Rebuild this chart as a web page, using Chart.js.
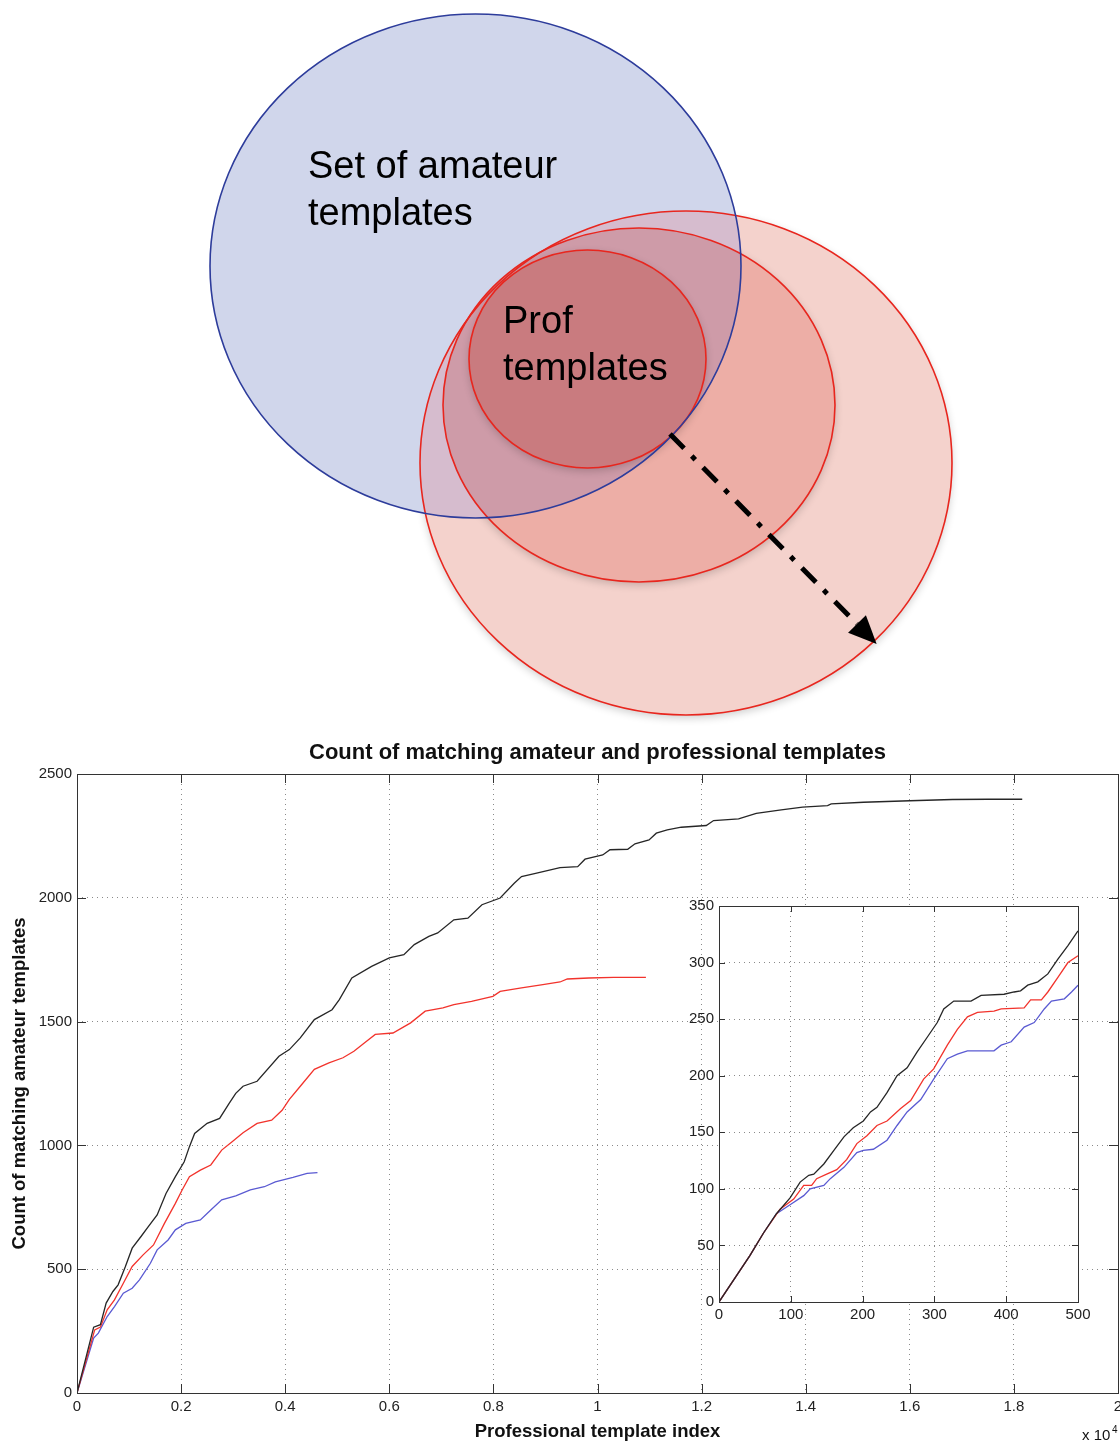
<!DOCTYPE html>
<html lang="en">
<head>
<meta charset="utf-8"/>
<title>Count of matching amateur and professional templates</title>
<script src="https://cdn.jsdelivr.net/npm/chart.js"></script>
<style>
  body { margin: 0; background: #fff; }
  .wrap { position: relative; width: 1120px; height: 1443px; }
  canvas { position: absolute; }
  #vennChart { left: 0; top: 0; }
  #mainChart { left: 0; top: 730px; }
  #insetChart { left: 680px; top: 895px; }
</style>
</head>
<body>
<div class="wrap">
<canvas id="vennChart" width="1120" height="730"></canvas>
<canvas id="mainChart" width="1120" height="713"></canvas>
<canvas id="insetChart" width="440" height="440"></canvas>
</div>
<script>
// ---- venn diagram (diagram units = page pixels) ----
// 0 = amateur set, 1 = outer prof ring, 2 = middle ring, 3 = prof templates
const vennCx = [475.5, 686, 639, 587.5];
const vennCy = [266, 463, 405, 359];
const vennRx = [265.5, 266, 196, 118.5];
const vennRy = [252, 252, 177, 109];
const vennLabels = [['Set of amateur', 'templates'], ['Prof', 'templates']];
const arrowX = [670, 857];
const arrowY = [434, 624];

// ---- main chart: professional template index vs matching count ----
const mainTitle = 'Count of matching amateur and professional templates';
const mainXTitle = 'Professional template index';
const mainYTitle = 'Count of matching amateur templates';
const mainXTicks = ['0', '0.2', '0.4', '0.6', '0.8', '1', '1.2', '1.4', '1.6', '1.8', '2'];
const mainYTicks = ['0', '500', '1000', '1500', '2000', '2500'];

const blackX = [0, 320, 450, 560, 690, 790, 930, 1060, 1230, 1370, 1540, 1710, 1890, 2060, 2160, 2260, 2500, 2740, 2920, 3050, 3190, 3460, 3880, 4080, 4290, 4560, 4900, 5040, 5280, 5660, 6000, 6280, 6480, 6760, 6930, 7240, 7510, 7780, 8130, 8400, 8540, 8810, 9280, 9620, 9760, 10100, 10240, 10580, 10720, 10990, 11130, 11340, 11610, 12090, 12230, 12710, 13050, 13530, 13940, 14420, 14490, 15110, 16000, 16820, 17510, 18160];
const blackY = [0, 266, 276, 363, 410, 437, 511, 585, 632, 672, 719, 806, 874, 934, 995, 1048, 1089, 1109, 1169, 1210, 1239, 1259, 1360, 1387, 1434, 1508, 1548, 1589, 1676, 1723, 1757, 1770, 1811, 1844, 1858, 1911, 1918, 1972, 1999, 2059, 2086, 2099, 2122, 2126, 2156, 2173, 2194, 2196, 2218, 2234, 2261, 2274, 2285, 2292, 2312, 2319, 2341, 2355, 2366, 2372, 2379, 2386, 2392, 2397, 2398, 2398];

const redX = [0, 340, 450, 580, 720, 890, 1060, 1270, 1470, 1680, 1890, 2020, 2160, 2370, 2570, 2780, 2980, 3190, 3460, 3740, 3940, 4080, 4290, 4560, 4840, 5110, 5320, 5520, 5730, 6070, 6410, 6690, 7030, 7240, 7580, 7990, 8130, 8540, 8950, 9280, 9420, 9830, 10310, 10930];
const redY = [0, 255, 266, 336, 376, 443, 511, 558, 598, 685, 766, 820, 874, 900, 921, 981, 1015, 1051, 1089, 1102, 1142, 1186, 1239, 1307, 1333, 1354, 1380, 1414, 1448, 1454, 1495, 1542, 1555, 1569, 1582, 1602, 1622, 1636, 1649, 1660, 1672, 1676, 1679, 1679];

const blueX = [0, 320, 410, 580, 720, 890, 1060, 1200, 1410, 1540, 1750, 1890, 2090, 2370, 2570, 2780, 3050, 3330, 3600, 3810, 4150, 4420, 4620];
const blueY = [0, 222, 242, 309, 349, 403, 423, 457, 524, 578, 618, 659, 685, 699, 739, 780, 796, 820, 833, 853, 871, 887, 890];

// ---- inset: first 500 templates ----
const insetXTicks = ['0', '100', '200', '300', '400', '500'];
const insetYTicks = ['0', '50', '100', '150', '200', '250', '300', '350'];

const inBlackX = [0, 43, 62, 80, 99, 113, 125, 132, 146, 160, 174, 187, 201, 211, 220, 234, 248, 262, 276, 290, 304, 313, 327, 351, 365, 397, 411, 420, 430, 444, 458, 472, 486, 500];
const inBlackY = [0, 41, 61, 78, 92, 106, 112, 113, 122, 134, 146, 154, 160, 168, 172, 185, 200, 207, 221, 234, 247, 259, 266, 266, 271, 272, 274, 275, 280, 283, 290, 303, 315, 328];

const inRedX = [0, 43, 62, 85, 104, 118, 129, 136, 150, 164, 178, 192, 206, 220, 234, 253, 267, 285, 299, 318, 332, 346, 360, 383, 393, 425, 434, 449, 458, 472, 486, 500];
const inRedY = [0, 41, 61, 82, 91, 103, 103, 109, 113, 117, 126, 140, 147, 156, 160, 171, 178, 197, 206, 227, 241, 252, 256, 257, 259, 260, 267, 267, 274, 287, 300, 306];

const inBlueX = [0, 43, 62, 80, 99, 118, 127, 146, 155, 174, 192, 201, 215, 234, 248, 262, 281, 299, 318, 332, 346, 383, 393, 407, 425, 439, 453, 463, 481, 491, 500];
const inBlueY = [0, 41, 61, 78, 86, 94, 100, 103, 109, 119, 132, 134, 135, 143, 156, 168, 179, 197, 215, 219, 222, 222, 227, 230, 243, 247, 259, 266, 268, 274, 280];

const FONT = "'Liberation Sans', Arial, Helvetica, sans-serif";
const lineColors = ['#262626', '#f2332c', '#5a5ad2'];

function series(xs, ys, color) {
  return {
    data: xs.map((x, i) => ({ x: x, y: ys[i] })),
    xAxisID: 'x',
    yAxisID: 'y',
    showLine: true,
    borderColor: color,
    borderWidth: 1.3,
    pointRadius: 0,
    tension: 0
  };
}

// draws the venn ellipses from the data arrays through the scales
const vennPlugin = {
  id: 'vennShapes',
  beforeDatasetsDraw(chart) {
    const ctx = chart.ctx, xs = chart.scales.x, ys = chart.scales.y;
    const fills = ['#d0d6eb', '#f4d2cc', '#edaea6', '#c97b7f'];
    const overBlue = [null, '#d6bcce', '#ce9ba8', '#c97b7f'];
    function path(i) {
      const cx = xs.getPixelForValue(vennCx[i]);
      const cy = ys.getPixelForValue(vennCy[i]);
      const rx = Math.abs(xs.getPixelForValue(vennCx[i] + vennRx[i]) - cx);
      const ry = Math.abs(ys.getPixelForValue(vennCy[i] + vennRy[i]) - cy);
      ctx.beginPath();
      ctx.ellipse(cx, cy, rx, ry, 0, 0, Math.PI * 2);
    }
    ctx.save();
    ctx.shadowColor = 'rgba(0,0,0,0.2)';
    ctx.shadowBlur = 8;
    ctx.shadowOffsetY = 3;
    path(1); ctx.fillStyle = fills[1]; ctx.fill();
    path(2); ctx.fillStyle = fills[2]; ctx.fill();
    ctx.shadowColor = 'transparent';
    path(0); ctx.fillStyle = fills[0]; ctx.fill();
    // overlap of the red rings with the amateur set
    ctx.save();
    path(0); ctx.clip();
    path(1); ctx.fillStyle = overBlue[1]; ctx.fill();
    path(2); ctx.fillStyle = overBlue[2]; ctx.fill();
    ctx.restore();
    ctx.shadowColor = 'rgba(0,0,0,0.2)';
    path(3); ctx.fillStyle = fills[3]; ctx.fill();
    ctx.shadowColor = 'transparent';
    ctx.lineWidth = 1.6;
    ctx.strokeStyle = '#e8261e';
    [1, 2, 3].forEach(i => { path(i); ctx.stroke(); });
    ctx.strokeStyle = '#2d3c9b';
    path(0); ctx.stroke();
    ctx.restore();
  },
  afterDatasetsDraw(chart) {
    const ctx = chart.ctx, xs = chart.scales.x, ys = chart.scales.y;
    // arrow head at the end of the dash-dot line
    const pts = chart.getDatasetMeta(0).data;
    const a = pts[0], b = pts[pts.length - 1];
    const ang = Math.atan2(b.y - a.y, b.x - a.x);
    const len = 28, half = 12.5;
    ctx.save();
    ctx.fillStyle = '#000';
    ctx.beginPath();
    ctx.moveTo(b.x + Math.cos(ang) * len, b.y + Math.sin(ang) * len);
    ctx.lineTo(b.x + Math.cos(ang + Math.PI / 2) * half, b.y + Math.sin(ang + Math.PI / 2) * half);
    ctx.lineTo(b.x - Math.cos(ang + Math.PI / 2) * half, b.y - Math.sin(ang + Math.PI / 2) * half);
    ctx.closePath();
    ctx.fill();
    // set labels
    ctx.font = '38px ' + FONT;
    ctx.textBaseline = 'alphabetic';
    const anchors = [[308, 178], [503, 333]];
    vennLabels.forEach((lines, k) => {
      lines.forEach((t, j) => {
        ctx.fillText(t, xs.getPixelForValue(anchors[k][0]), ys.getPixelForValue(anchors[k][1] + j * 47));
      });
    });
    ctx.restore();
  }
};

new Chart(document.getElementById('vennChart'), {
  type: 'scatter',
  data: {
    datasets: [{
      data: arrowX.map((x, i) => ({ x: x, y: arrowY[i] })),
      showLine: true,
      borderColor: '#000',
      borderWidth: 5,
      borderDash: [20, 11, 5, 11],
      borderCapStyle: 'butt',
      pointRadius: 0
    }]
  },
  options: {
    animation: false,
    responsive: false,
    events: [],
    plugins: { legend: { display: false }, tooltip: { enabled: false } },
    scales: {
      x: { type: 'linear', min: 0, max: 1120, display: false },
      y: { type: 'linear', min: 0, max: 730, reverse: true, display: false }
    }
  },
  plugins: [vennPlugin]
});

// matlab style box with inward ticks on all four sides
const boxPlugin = {
  id: 'matlabBox',
  beforeDraw(chart, args, opts) {
    if (!opts.whiteArea) return;
    const a = chart.chartArea;
    chart.ctx.save();
    chart.ctx.fillStyle = '#fff';
    chart.ctx.fillRect(a.left, a.top, a.right - a.left, a.bottom - a.top);
    chart.ctx.restore();
  },
  afterDatasetsDraw(chart, args, opts) {
    const { ctx, chartArea: a, scales } = chart;
    const len = opts.tickLen;
    ctx.save();
    ctx.strokeStyle = '#333';
    ctx.lineWidth = 1;
    ctx.strokeRect(a.left + 0.5, a.top + 0.5, a.right - a.left, a.bottom - a.top);
    ctx.beginPath();
    scales.x.ticks.forEach(t => {
      const px = Math.round(scales.x.getPixelForValue(t.value)) + 0.5;
      ctx.moveTo(px, a.bottom); ctx.lineTo(px, a.bottom - len);
      ctx.moveTo(px, a.top); ctx.lineTo(px, a.top + len);
    });
    scales.y.ticks.forEach(t => {
      const py = Math.round(scales.y.getPixelForValue(t.value)) + 0.5;
      ctx.moveTo(a.left, py); ctx.lineTo(a.left + len, py);
      ctx.moveTo(a.right, py); ctx.lineTo(a.right - len, py);
    });
    ctx.stroke();
    if (opts.exponent) {
      ctx.fillStyle = '#111';
      ctx.font = '15px ' + FONT;
      ctx.fillText('x 10', 1082, 710);
      ctx.font = '10px ' + FONT;
      ctx.fillText('4', 1112, 703);
    }
    ctx.restore();
  }
};

const tickFont = { family: FONT, size: 15 };
const gridOpts = { color: '#8a8a8a', drawTicks: false, lineWidth: 1 };
const gridDash = { display: false, dash: [1, 4] };

new Chart(document.getElementById('mainChart'), {
  type: 'scatter',
  data: {
    datasets: [
      series(blackX, blackY, lineColors[0]),
      series(redX, redY, lineColors[1]),
      series(blueX, blueY, lineColors[2])
    ]
  },
  options: {
    animation: false,
    responsive: false,
    events: [],
    layout: { padding: { right: 2 } },
    plugins: {
      legend: { display: false },
      tooltip: { enabled: false },
      matlabBox: { tickLen: 9, exponent: true }
    },
    scales: {
      x: {
        type: 'linear', min: 0, max: 20000,
        ticks: { stepSize: 2000, padding: 5, color: '#222', font: tickFont, maxRotation: 0,
                 callback: (v, i) => mainXTicks[i] },
        grid: gridOpts,
        border: gridDash,
        title: { display: true, text: mainXTitle, color: '#111',
                 font: { family: FONT, size: 18.5, weight: 'bold' }, padding: { top: 0, bottom: 0 } },
        afterFit: s => { s.height = 50; s.paddingLeft = 0; s.paddingRight = 0; }
      },
      y: {
        type: 'linear', min: 0, max: 2500,
        ticks: { stepSize: 500, padding: 5, color: '#222', font: tickFont,
                 callback: (v, i) => mainYTicks[i] },
        grid: gridOpts,
        border: gridDash,
        title: { display: true, text: mainYTitle, color: '#111',
                 font: { family: FONT, size: 18.5, weight: 'bold' }, padding: { top: 9, bottom: 0 } },
        afterFit: s => { s.width = 77; s.paddingTop = 0; s.paddingBottom = 0; }
      },
      // empty top axis only carries the title, centred over the plot box
      top: {
        type: 'linear', axis: 'x', position: 'top', min: 0, max: 1,
        ticks: { display: false },
        grid: { display: false },
        border: { display: false },
        title: { display: true, text: mainTitle, color: '#111',
                 font: { family: FONT, size: 22, weight: 'bold' }, padding: { top: 10, bottom: 0 } },
        afterFit: s => { s.height = 44; s.paddingLeft = 0; s.paddingRight = 0; }
      }
    }
  },
  plugins: [boxPlugin]
});

new Chart(document.getElementById('insetChart'), {
  type: 'scatter',
  data: {
    datasets: [
      series(inBlackX, inBlackY, lineColors[0]),
      series(inRedX, inRedY, lineColors[1]),
      series(inBlueX, inBlueY, lineColors[2])
    ]
  },
  options: {
    animation: false,
    responsive: false,
    events: [],
    layout: { padding: { top: 11, right: 42 } },
    plugins: {
      legend: { display: false },
      tooltip: { enabled: false },
      matlabBox: { tickLen: 6, whiteArea: true }
    },
    scales: {
      x: {
        type: 'linear', min: 0, max: 500,
        ticks: { stepSize: 100, padding: 4, color: '#222', font: tickFont, maxRotation: 0,
                 callback: (v, i) => insetXTicks[i] },
        grid: gridOpts,
        border: gridDash,
        afterFit: s => { s.height = 33; s.paddingLeft = 0; s.paddingRight = 0; }
      },
      y: {
        type: 'linear', min: 0, max: 350,
        ticks: { stepSize: 50, padding: 5, color: '#222', font: tickFont,
                 callback: (v, i) => insetYTicks[i] },
        grid: gridOpts,
        border: gridDash,
        afterFit: s => { s.width = 39; s.paddingTop = 0; s.paddingBottom = 0; }
      }
    }
  },
  plugins: [boxPlugin]
});
</script>
</body>
</html>
